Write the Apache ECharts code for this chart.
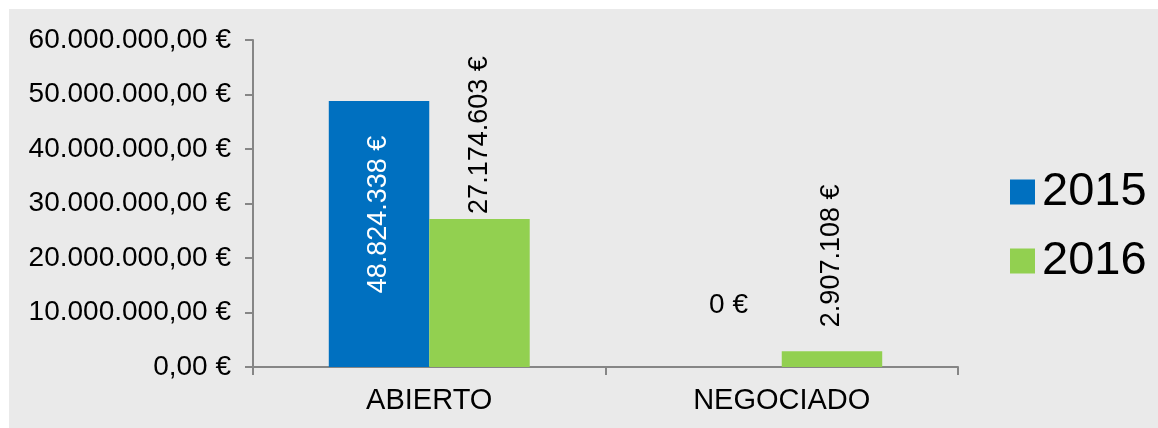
<!DOCTYPE html>
<html>
<head>
<meta charset="utf-8">
<script src="https://cdn.jsdelivr.net/npm/echarts@6/dist/echarts.min.js"></script>
<style>
  html, body { margin: 0; padding: 0; background: #ffffff; }
  #chart { width: 1158px; height: 428px; }
</style>
</head>
<body>
<div id="chart"></div>
<script>
// chart data
const categories = ['ABIERTO', 'NEGOCIADO'];
const values2015 = [48824338, 0];
const values2016 = [27174603, 2907108];
const seriesNames = ['2015', '2016'];

const FONT = '"Liberation Sans", Arial, sans-serif';

function euroInt(v) {
    return String(Math.round(v)).replace(/\B(?=(\d{3})+(?!\d))/g, '.') + ' €';
}
function euroTick(v) {
    return String(Math.round(v)).replace(/\B(?=(\d{3})+(?!\d))/g, '.') + ',00 €';
}

const chart = echarts.init(document.getElementById('chart'));

const options = {
    backgroundColor: 'transparent',
    animation: false,
    textStyle: { fontFamily: FONT },
    graphic: [{
        type: 'rect',
        z: -10,
        silent: true,
        shape: { x: 9, y: 9, width: 1149, height: 419 },
        style: { fill: '#eaeaea' }
    }],
    grid: { left: 253, right: 200, top: 40, bottom: 61 },
    legend: {
        orient: 'vertical',
        left: 1005,
        top: 162,
        itemWidth: 25,
        itemHeight: 25,
        itemGap: 19,
        icon: 'rect',
        textStyle: { fontSize: 47, color: '#000', fontFamily: FONT, lineHeight: 50, padding: [0, 0, 0, 2] },
        data: seriesNames
    },
    xAxis: {
        type: 'category',
        data: categories,
        axisLine: { lineStyle: { color: '#868686', width: 2 } },
        axisTick: { show: true, length: 8, alignWithLabel: false, lineStyle: { color: '#868686', width: 2 } },
        axisLabel: { fontSize: 29, color: '#000', margin: 19, fontFamily: FONT }
    },
    yAxis: {
        type: 'value',
        min: 0,
        max: 60000000,
        interval: 10000000,
        splitLine: { show: false },
        axisLine: { show: true, lineStyle: { color: '#868686', width: 2 } },
        axisTick: { show: true, length: 8, lineStyle: { color: '#868686', width: 2 } },
        axisLabel: { fontSize: 28, color: '#000', margin: 22, fontFamily: FONT, formatter: euroTick }
    },
    series: [
        {
            name: seriesNames[0],
            type: 'bar',
            barGap: '0%',
            barCategoryGap: '43%',
            itemStyle: { color: '#0070c0' },
            data: values2015.map((v, i) => {
                if (v === 0) {
                    return {
                        value: v,
                        label: {
                            show: true, position: 'top', rotate: 0, distance: 48,
                            color: '#000', fontSize: 28, align: 'center', verticalAlign: 'bottom',
                            offset: [-3, 0]
                        }
                    };
                }
                return v;
            }),
            label: {
                show: true,
                position: ['50%', '42.7%'],
                rotate: 90,
                align: 'center',
                verticalAlign: 'middle',
                color: '#fff',
                fontSize: 27,
                fontFamily: FONT,
                formatter: p => euroInt(p.value)
            }
        },
        {
            name: seriesNames[1],
            type: 'bar',
            barGap: '0%',
            barCategoryGap: '43%',
            itemStyle: { color: '#92d050' },
            data: values2016.map((v, i) => ({
                value: v,
                label: { distance: i === 0 ? 5 : 24 }
            })),
            label: {
                show: true,
                position: 'top',
                rotate: 90,
                align: 'left',
                verticalAlign: 'middle',
                color: '#000',
                fontSize: 27,
                fontFamily: FONT,
                formatter: p => euroInt(p.value)
            }
        }
    ]
};

chart.setOption(options);
</script>
</body>
</html>
